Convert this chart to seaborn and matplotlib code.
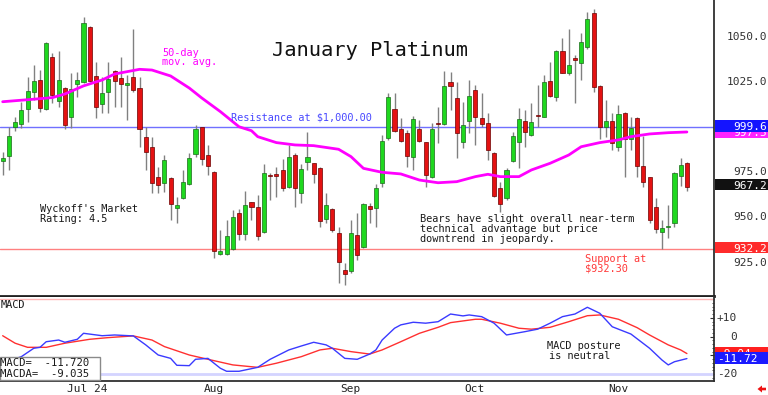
import numpy as np
import pandas as pd
import matplotlib
matplotlib.use("Agg")
import matplotlib.pyplot as plt
import seaborn as sns
from matplotlib import transforms
from matplotlib.patches import Rectangle, Polygon
from matplotlib.ticker import MultipleLocator

# ---------------- data ----------------
opens = [981.6, 984.4, 1000.1, 1002.2, 1010.5, 1019.6, 1026.2, 1010.1, 1039.0, 1014.9,
         1022.0, 1006.0, 1024.2, 1025.5, 1056.0, 1028.4, 1012.9, 1019.9, 1031.4, 1027.5,
         1023.4, 1028.3, 1022.2, 994.9, 989.4, 972.3, 969.0, 972.1, 955.5, 961.0,
         968.4, 985.1, 1000.1, 984.7, 975.3, 929.9, 929.6, 932.3, 952.3, 940.9,
         958.4, 956.0, 942.0, 973.3, 973.6, 976.4, 967.2, 984.7, 963.4, 980.9,
         980.1, 977.7, 949.0, 954.7, 941.6, 920.7, 920.5, 940.3, 933.4, 956.6,
         955.5, 969.0, 994.0, 1010.5, 999.2, 996.8, 983.4, 999.2, 991.8, 972.7,
         1002.2, 1001.8, 1025.5, 1016.6, 992.1, 1003.8, 1020.8, 1005.4, 1002.3, 986.0,
         966.2, 960.6, 981.5, 992.1, 1003.8, 995.8, 1006.7, 1006.0, 1026.0, 1017.1,
         1042.7, 1030.1, 1038.8, 1035.6, 1044.9, 1063.4, 1023.0, 1000.4, 1003.6, 989.3,
         1007.8, 993.4, 1005.1, 978.8, 972.3, 955.6, 942.1, 944.6, 946.7, 973.2, 980.4]
highs = [986.6, 1000.1, 1006.0, 1014.4, 1028.3, 1034.7, 1032.0, 1047.7, 1041.2, 1042.5,
         1022.7, 1030.1, 1031.0, 1061.2, 1056.5, 1036.6, 1028.3, 1036.6, 1032.0, 1039.4,
         1029.2, 1054.6, 1028.3, 1000.5, 994.9, 978.3, 984.7, 972.5, 961.6, 976.4,
         985.7, 1001.4, 1000.5, 990.3, 975.9, 943.1, 948.6, 954.2, 954.6, 964.9,
         958.8, 962.5, 979.6, 974.6, 978.3, 982.3, 990.3, 985.7, 979.7, 997.3,
         980.5, 978.3, 963.8, 955.2, 944.9, 924.6, 948.6, 952.3, 957.9, 957.9,
         968.6, 995.9, 1019.0, 1019.0, 1005.1, 998.6, 1006.4, 1004.2, 992.2, 1002.3,
         1011.6, 1031.4, 1031.0, 1025.5, 1014.3, 1026.4, 1023.6, 1018.9, 1007.8, 986.5,
         969.9, 977.3, 997.7, 1010.6, 1009.7, 1013.4, 1023.6, 1029.1, 1036.5, 1043.0,
         1049.5, 1054.5, 1040.2, 1052.3, 1064.3, 1065.6, 1023.4, 1015.2, 1007.8, 1012.5,
         1008.8, 1006.0, 1006.0, 995.0, 972.7, 960.6, 948.6, 956.9, 975.4, 982.8, 980.9]
lows = [973.6, 976.4, 998.0, 999.6, 1003.3, 1015.3, 1008.8, 1009.7, 1013.4, 1011.6,
        999.2, 999.6, 1017.2, 1024.6, 1025.5, 1005.1, 1007.9, 1007.9, 1011.6, 1011.6,
        1004.2, 1019.9, 989.4, 976.4, 963.4, 963.4, 964.4, 948.6, 946.8, 960.5,
        968.0, 983.8, 979.2, 973.6, 927.3, 929.2, 929.2, 932.0, 937.5, 937.5,
        948.6, 937.5, 941.6, 959.7, 961.6, 964.9, 966.2, 955.7, 957.9, 976.4,
        969.0, 944.9, 946.8, 942.2, 913.4, 912.5, 919.0, 926.4, 932.9, 946.8,
        944.9, 967.2, 993.1, 997.7, 992.2, 978.3, 976.4, 992.2, 967.2, 971.8,
        991.2, 1001.4, 1009.7, 982.9, 988.4, 996.7, 990.2, 1000.4, 981.9, 961.2,
        953.2, 959.7, 980.9, 977.3, 989.3, 995.0, 1000.4, 1005.6, 1017.1, 1014.9,
        1030.1, 1029.1, 1013.4, 1026.4, 1043.4, 1019.9, 993.4, 994.9, 987.5, 987.1,
        972.7, 987.5, 972.7, 967.1, 946.7, 941.2, 932.3, 938.4, 944.9, 967.7, 964.9]
closes = [983.1, 995.3, 1002.9, 1009.6, 1020.3, 1025.9, 1010.9, 1047.0, 1018.3, 1026.2,
          1001.2, 1021.2, 1026.4, 1057.9, 1025.9, 1011.6, 1019.0, 1027.0, 1026.0, 1024.2,
          1024.6, 1020.9, 999.2, 986.6, 969.4, 968.1, 981.8, 957.5, 956.8, 969.7,
          983.3, 999.2, 982.5, 978.6, 931.4, 931.4, 939.9, 950.1, 940.9, 957.0,
          956.0, 939.9, 974.7, 972.9, 973.2, 966.2, 983.8, 966.2, 976.8, 983.6,
          974.0, 948.1, 957.0, 943.1, 925.5, 918.8, 941.2, 929.2, 957.3, 954.9,
          966.6, 992.5, 1017.2, 998.3, 992.7, 984.4, 1004.6, 992.7, 973.6, 999.0,
          1001.8, 1022.9, 1022.9, 996.8, 1001.4, 1017.5, 1006.0, 1001.9, 987.5, 962.1,
          957.5, 976.4, 995.2, 1004.7, 997.3, 1003.2, 1006.3, 1025.4, 1017.5, 1042.7,
          1030.4, 1034.5, 1037.5, 1047.7, 1060.2, 1022.3, 1000.4, 1003.6, 991.2, 1007.3,
          993.4, 999.5, 978.8, 969.9, 948.6, 943.6, 943.9, 945.2, 974.5, 979.1, 967.2]

ma_day = [0, 5, 8, 10, 13, 16, 18, 22, 24, 27, 30, 32, 35, 38, 40, 41, 44, 47, 50, 54,
          56, 58, 61, 64, 67, 70, 73, 76, 78, 80, 83, 85, 88, 91, 93, 96, 99, 101, 104, 107, 110]
ma_val = [1014.3, 1015.7, 1016.6, 1018.6, 1023.1, 1026.4, 1029.7, 1032.3, 1031.9, 1028.6,
          1021.9, 1016.4, 1008.8, 1000.4, 998.2, 994.9, 991.6, 990.3, 989.9, 987.9,
          983.8, 977.3, 975.1, 974.2, 970.8, 969.3, 969.9, 972.7, 974.0, 972.7,
          972.7, 976.4, 980.1, 984.7, 989.3, 991.6, 993.1, 994.9, 996.4, 997.1, 997.5]

macd_day = [0, 3, 5, 6, 7, 9, 10, 12, 13, 16, 18, 21, 23, 25, 27, 28, 30, 31, 33, 35,
            36, 38, 41, 43, 46, 48, 50, 52, 53, 55, 57, 59, 60, 61, 63, 64, 66, 68, 70, 72,
            74, 75, 77, 79, 81, 84, 86, 88, 90, 92, 94, 96, 98, 101, 104, 106, 107, 108, 110]
macd_val = [-14, -10.7, -6.2, -5.7, -2.7, -1.8, -3.0, -1.4, 1.8, 0.5,
            0.9, 0.4, -4.4, -9.8, -11.6, -15.3, -15.5, -12.1, -11.6, -16.9,
            -18.5, -18.5, -16.4, -12.1, -7.1, -5.0, -3.0, -4.4, -6.2, -11.6,
            -12.1, -9.3, -7.1, -1.8, 4.5, 6.3, 7.7, 7.2, 8.0, 12.1,
            11.1, 11.6, 10.7, 7.2, 0.9, 2.7, 4.0, 7.2, 10.7, 12.1,
            15.7, 12.5, 5.3, 1.4, -6.2, -12.5, -15.1, -13.4, -11.72]
sig_day = [0, 2, 4, 7, 10, 14, 17, 21, 24, 26, 30, 33, 37, 41, 44, 48, 51, 53, 56, 59,
           61, 64, 67, 70, 72, 76, 77, 80, 83, 85, 88, 91, 94, 96, 99, 102, 104, 107, 109, 110]
sig_val = [0.5, -3.5, -5.7, -5.7, -3.5, -1.4, -0.5, 0.4, -1.8, -5.3,
           -9.8, -12.1, -15.1, -16.4, -14.2, -10.7, -7.1, -6.2, -8.0, -9.3,
           -7.1, -2.7, 1.8, 5.0, 7.5, 9.3, 9.3, 7.2, 4.5, 4.0,
           5.0, 8.0, 11.2, 11.6, 9.3, 4.8, 0.9, -4.4, -7.1, -9.035]

month_day = [10, 32, 54, 74, 97]
month_lbl = ["Jul 24", "Aug", "Sep", "Oct", "Nov"]
price_ticks = [925, 950, 975, 1025, 1050]
macd_ticks = [10, 0, -20]
macd_tick_lbl = ["+10", "0", "-20"]
resistance = 1000.0
resistance_last = 999.6
support = 932.3
support_last = 932.2
last_close = 967.2
last_ma = 997.5
macd_last = -11.72
macda_last = -9.035

# ---------------- style ----------------
sns.set_style("white")
plt.rcParams['font.family'] = ['DejaVu Sans Mono', 'DejaVu Sans']

W, H = 768, 395
fig = plt.figure(figsize=(W / 100, H / 100), dpi=100)


def fx(x):
    return x / W


def fy(y):
    return 1 - y / H


ax = fig.add_axes([0, fy(296), fx(714), 296 / H])
axm = fig.add_axes([0, fy(381), fx(714), (381 - 297) / H])

df = pd.DataFrame({"o": opens, "h": highs, "l": lows, "c": closes})
df["day"] = np.arange(len(df))
up = df["c"] >= df["o"]

# wicks
ax.vlines(df["day"], df["l"], df["h"], color="#808080", lw=1, zorder=2)
# bodies
for mask, fc, ec in [(up, "#1fd81f", "#1b6b1b"), (~up, "#e41212", "#6a0000")]:
    d = df[mask]
    lo = np.minimum(d["o"], d["c"])
    hgt = np.maximum((d["c"] - d["o"]).abs(), 0.7)
    ax.bar(d["day"], hgt, bottom=lo, width=0.66, color=fc, edgecolor=ec,
           linewidth=0.5, zorder=3)

ax.axhline(resistance, color="#7070ff", lw=1, zorder=1)
ax.axhline(support, color="#ff8080", lw=1, zorder=1)

sns.lineplot(x=ma_day, y=ma_val, ax=ax, color="#ff00ff", lw=2, zorder=4)

XL = (-0.43, (714 - 2.7) / 6.22)
ax.set_xlim(*XL)
ax.set_ylim(906.4, 1070.8)
ax.set_xticks([])
ax.set_yticks([])
ax.set_xlabel("")
ax.set_ylabel("")
for s in ["top", "left"]:
    ax.spines[s].set_visible(False)
ax.spines["right"].set_color("#303030")
ax.spines["right"].set_linewidth(1.3)
ax.spines["bottom"].set_color("#202020")
ax.spines["bottom"].set_linewidth(2)

# right-hand price labels
blend = transforms.blended_transform_factory(fig.transFigure, ax.transData)
lab_tr = transforms.offset_copy(blend, fig=fig, x=0, y=-3, units="dots")
for p in price_ticks:
    ax.text(fx(767), p, f"{p:.1f}", transform=lab_tr, ha="right", va="baseline",
            fontsize=8, color="#333333", clip_on=False)


def value_box(axis, btrans, val, col, txt, h, yoff, xtext, ha, z):
    tr_box = transforms.offset_copy(btrans, fig=fig, x=0, y=yoff, units="dots")
    rect = Rectangle((fx(715), val - h / 2), fx(53), h, transform=tr_box,
                     facecolor=col, edgecolor="none", clip_on=False, zorder=z)
    axis.add_patch(rect)
    t = axis.text(fx(xtext), val, txt,
                  transform=transforms.offset_copy(btrans, fig=fig, y=yoff - 4, units="dots"),
                  ha=ha, va="baseline", fontsize=8, color="white", zorder=z + 0.1)
    t.set_clip_on(True)
    t.set_clip_path(rect)


value_box(ax, blend, last_ma, "#ff22ff", f"{last_ma:.1f}", 6.4, 0, 767, "right", 6.0)
value_box(ax, blend, resistance_last, "#1414ff", f"{resistance_last:.1f}", 6.4, 2, 767, "right", 6.4)
value_box(ax, blend, last_close, "#111111", f"{last_close:.1f}", 6.4, 2, 767, "right", 6.4)
value_box(ax, blend, support_last, "#ff2b2b", f"{support_last:.1f}", 6.4, 2, 767, "right", 6.4)

# ---------------- MACD panel ----------------
axm.axhline(20, color="#ffb4b4", lw=1, zorder=1)
axm.axhline(-20, color="#d4d4ff", lw=2, zorder=1)
sns.lineplot(x=sig_day, y=sig_val, ax=axm, color="#ff3030", lw=1, zorder=3)
sns.lineplot(x=macd_day, y=macd_val, ax=axm, color="#3a3aff", lw=1, zorder=4)
axm.set_xlim(*XL)
axm.set_ylim(-23.7, 21.2)
axm.set_xlabel("")
axm.set_ylabel("")
axm.spines["top"].set_visible(False)
axm.spines["left"].set_visible(False)
for s in ["right", "bottom"]:
    axm.spines[s].set_color("#303030")
    axm.spines[s].set_linewidth(1.3)
axm.yaxis.tick_right()
axm.set_yticks([-20, -10, 0, 10, 20])
axm.set_yticklabels([])
axm.yaxis.set_minor_locator(MultipleLocator(2))
axm.tick_params(axis="y", which="major", direction="in", length=3, color="#303030")
axm.tick_params(axis="y", which="minor", direction="in", length=1.5, color="#303030")
axm.set_xticks(month_day)
axm.set_xticklabels([])
axm.tick_params(axis="x", direction="out", length=10.5, width=1, color="#404040")

mblend = transforms.blended_transform_factory(fig.transFigure, axm.transData)
m_tr = transforms.offset_copy(mblend, fig=fig, x=0, y=-3.2, units="dots")
for v, t in zip(macd_ticks, macd_tick_lbl):
    axm.text(fx(737), v, t, transform=m_tr, ha="right", va="baseline", fontsize=8,
             color="#333333", clip_on=False)
value_box(axm, mblend, macda_last, "#ff2020", f"{macda_last:.2f}", 6.2, 0.8, 717, "left", 6.0)
value_box(axm, mblend, macd_last, "#1a1aff", f"{macd_last:.2f}", 6.2, 0.8, 717, "left", 6.4)

# month labels
dblend = transforms.blended_transform_factory(axm.transData, fig.transFigure)
for d, t in zip(month_day, month_lbl):
    axm.text(d + 0.3, fy(391.5), t, transform=dblend, ha="left", va="baseline",
             fontsize=8, color="#222222", clip_on=False)


# ---------------- annotations ----------------
def ftext(x, y, s, **kw):
    kw.setdefault("fontsize", 7.4)
    fig.text(fx(x), fy(y), s, ha="left", va="baseline", **kw)


ftext(272, 56.5, "January Platinum", fontsize=14.7, color="#111111")
ftext(162, 55.5, "50-day", color="#ff00ff")
ftext(162, 65.2, "mov. avg.", color="#ff00ff")
ftext(231, 120, "Resistance at $1,000.00", color="#4848ff")
ftext(40, 211.7, "Wyckoff's Market", color="#1a1a1a")
ftext(40, 222.3, "Rating: 4.5", color="#1a1a1a")
ftext(420, 221.7, "Bears have slight overall near-term", color="#1a1a1a")
ftext(420, 232.3, "technical advantage but price", color="#1a1a1a")
ftext(420, 242.3, "downtrend in jeopardy.", color="#1a1a1a")
ftext(585, 261.7, "Support at", color="#ff3838")
ftext(585, 271.7, "$932.30", color="#ff3838")
ftext(1, 308.3, "MACD", color="#1a1a1a")
ftext(547, 349.3, "MACD posture", color="#1a1a1a")
ftext(549, 359.3, "is neutral", color="#1a1a1a")

fig.patches.append(Rectangle((fx(0), fy(380)), fx(100), (380 - 357) / H, transform=fig.transFigure,
                             facecolor="white", edgecolor="#8a8a8a", lw=1, zorder=10))
fig.text(fx(0), fy(366), f"MACD=  {macd_last:.3f}", fontsize=7.6, color="#1a1a1a",
         ha="left", va="baseline", zorder=11)
fig.text(fx(0), fy(377.3), f"MACDA=  {macda_last:.3f}", fontsize=7.6, color="#1a1a1a",
         ha="left", va="baseline", zorder=11)

arrow_px = [(757.5, 389), (762, 385.5), (762, 387.7), (766, 387.7), (766, 390.3),
            (762, 390.3), (762, 392.5)]
fig.patches.append(Polygon([(fx(a), fy(b)) for a, b in arrow_px], closed=True,
                           transform=fig.transFigure, facecolor="#ee1111", edgecolor="none"))

fig.savefig("out.png", dpi=100)
